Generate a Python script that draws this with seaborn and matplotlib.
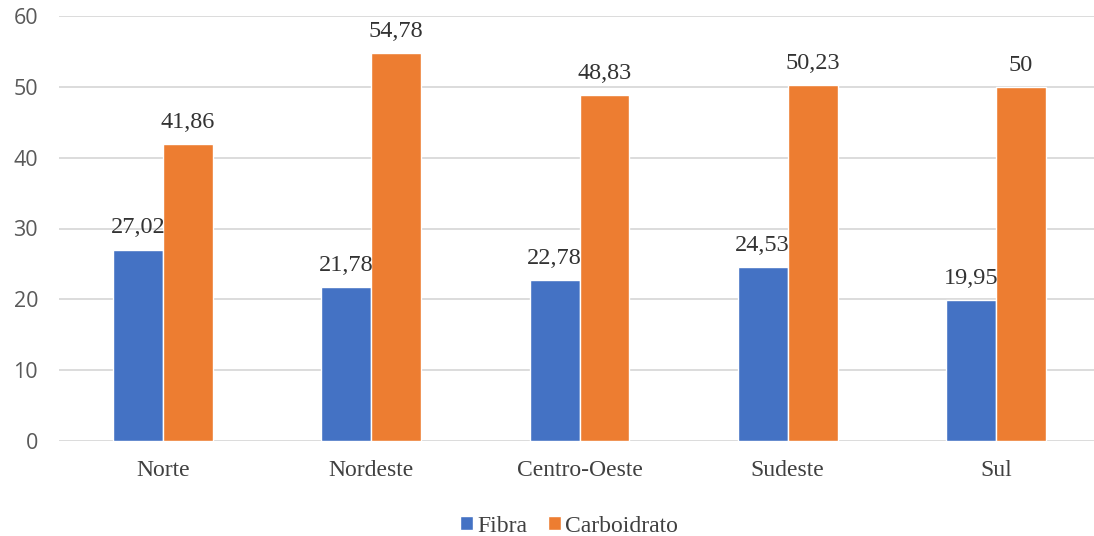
import matplotlib
matplotlib.use("Agg")
import matplotlib.pyplot as plt
import seaborn as sns
import pandas as pd

# dados
regioes = ["Norte", "Nordeste", "Centro-Oeste", "Sudeste", "Sul"]
fibra = [27.02, 21.78, 22.78, 24.53, 19.95]
carboidrato = [41.86, 54.78, 48.83, 50.23, 50.0]
series = ["Fibra", "Carboidrato"]
cores = ["#4472C4", "#ED7D31"]

df = pd.DataFrame({
    "regiao": regioes * 2,
    "serie": [series[0]] * len(regioes) + [series[1]] * len(regioes),
    "valor": fibra + carboidrato,
})

sns.set_theme(style="white")
plt.rcParams["font.family"] = ["Liberation Serif", "DejaVu Serif"]
serif = "Liberation Serif"

fig = plt.figure(figsize=(10.94, 5.36), dpi=100)
ax = fig.add_axes([59 / 1094, 1 - 441 / 536, 1041 / 1094, 425 / 536])

sns.barplot(data=df, x="regiao", y="valor", hue="serie", hue_order=series,
            palette=cores, width=0.48, saturation=1, ax=ax, legend=True)

def fmt(v):
    return ("%g" % v).replace(".", ",")

for cont in ax.containers:
    ax.bar_label(cont, labels=[fmt(b.get_height()) for b in cont],
                 padding=8, fontsize=17.5, color="#333333", family=serif)

ax.set_ylim(0, 60)
ax.set_xlim(-0.5, 4.5)
ax.set_yticks(range(0, 61, 10))
ax.set_yticklabels([str(t) for t in range(0, 61, 10)], family="Open Sans",
                   fontsize=15.5, color="#595959")
ax.set_xticks(range(len(regioes)))
ax.set_xticklabels(regioes, family=serif, fontsize=17, color="#404040")
ax.tick_params(axis="x", length=0, pad=14)
ax.tick_params(axis="y", length=0, pad=15)
ax.grid(axis="y", color="#d9d9d9", linewidth=1.3)
ax.set_axisbelow(True)
for s in ax.spines.values():
    s.set_visible(False)
ax.set_xlabel("")
ax.set_ylabel("")

leg = ax.legend(loc="lower center", bbox_to_anchor=(0.49, -0.275), ncol=2,
                frameon=False, prop={"family": serif, "size": 17},
                handlelength=0.55, handleheight=0.55, handletextpad=0.15,
                columnspacing=0.9)
for t in leg.get_texts():
    t.set_color("#404040")

fig.savefig("out.png", dpi=100)
